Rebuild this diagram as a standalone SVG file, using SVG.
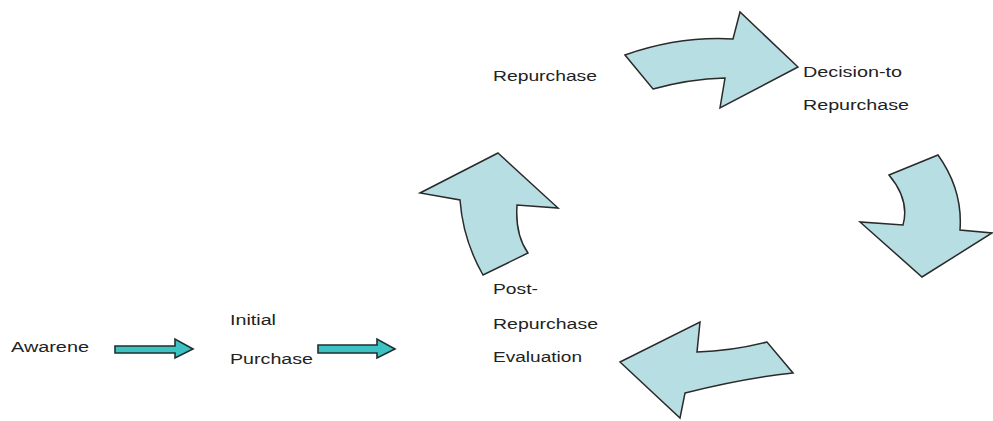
<svg xmlns="http://www.w3.org/2000/svg" width="993" height="421" viewBox="0 0 993 421">
<style>
.big{fill:#b6dee3;stroke:#2a2a2a;stroke-width:1.5;stroke-linejoin:miter}
.small{fill:#3cc2c2;stroke:#1f2f2f;stroke-width:1.6}
.lbl{font-family:"Liberation Sans",Arial,sans-serif;font-size:14px;fill:#222}
</style>
<rect width="993" height="421" fill="#fff"/>
<g id="connectors">
<path id="arrow-awareness" class="small" d="M115,346 L175,346 L175,339 L193,349 L175,358 L175,353 L115,353 Z"/>
<path id="arrow-initial" class="small" d="M318,345 L377,345 L377,339 L395,349 L377,358 L377,353 L318,353 Z"/>
<path id="arrow-top" class="big" d="M625,55 Q679,36 733,39 L740,12 L798,67 L720,108 L725,78 Q689,79 653,89 Z"/>
<path id="arrow-right" class="big" d="M889,175 L938,155 Q963,190 960,230 L992,233 L922,277 L860,222 L903,225 Q910,200 889,175 Z"/>
<path id="arrow-bottom" class="big" d="M700,322 L697,352 Q732,351 767,342 L793,373 Q745,378 685,393 L680,418 L620,362 Z"/>
<path id="arrow-left" class="big" d="M498,153 L558,208 L517,205 Q515,235 528,253 L483,275 Q463,240 460,200 L420,193 Z"/>
</g>
<g id="awareness"><text class="lbl" x="11" y="352" textLength="78" lengthAdjust="spacingAndGlyphs">Awarene</text></g>
<g id="initial-purchase">
<text class="lbl" x="230" y="325" textLength="46" lengthAdjust="spacingAndGlyphs">Initial</text>
<text class="lbl" x="230" y="364" textLength="83" lengthAdjust="spacingAndGlyphs">Purchase</text>
</g>
<g id="repurchase"><text class="lbl" x="493" y="81" textLength="104" lengthAdjust="spacingAndGlyphs">Repurchase</text></g>
<g id="decision">
<text class="lbl" x="803" y="77" textLength="99" lengthAdjust="spacingAndGlyphs">Decision-to</text>
<text class="lbl" x="803" y="110" textLength="106" lengthAdjust="spacingAndGlyphs">Repurchase</text>
</g>
<g id="post-evaluation">
<text class="lbl" x="493" y="294" textLength="45" lengthAdjust="spacingAndGlyphs">Post-</text>
<text class="lbl" x="493" y="329" textLength="105" lengthAdjust="spacingAndGlyphs">Repurchase</text>
<text class="lbl" x="493" y="362" textLength="89" lengthAdjust="spacingAndGlyphs">Evaluation</text>
</g>
</svg>
